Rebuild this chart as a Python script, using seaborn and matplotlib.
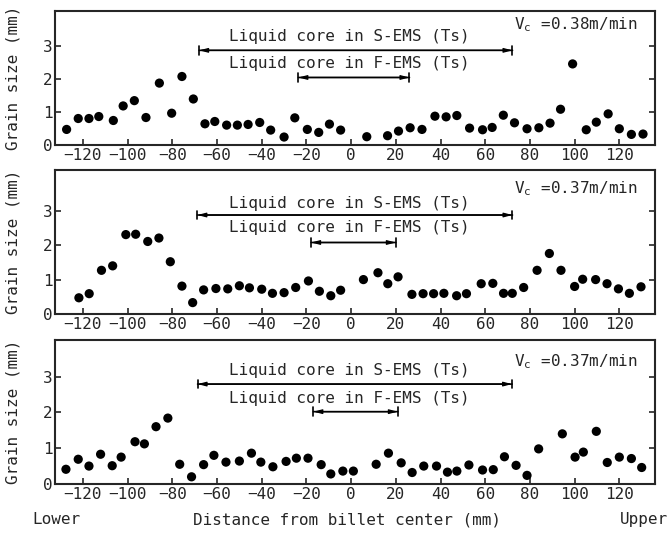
import matplotlib
matplotlib.use("Agg")
import matplotlib.pyplot as plt
import seaborn as sns
import pandas as pd

# distance from billet center (mm) and grain size (mm), one pair per panel
p1_x = [-127.3, -122.1, -117.3, -112.9, -106.4, -102.0, -97.0, -91.8, -85.8, -80.3,
        -75.7, -70.6, -65.4, -61.0, -55.7, -50.9, -46.1, -40.9, -36.0, -30.0,
        -25.2, -19.6, -14.5, -9.7, -4.7, 7.0, 16.3, 21.2, 26.4, 31.7,
        37.5, 42.5, 47.3, 53.0, 58.8, 63.1, 68.1, 73.1, 78.7, 84.0,
        89.0, 93.7, 99.1, 105.2, 109.7, 115.0, 120.0, 125.4, 130.6]
p1_y = [0.47, 0.80, 0.80, 0.86, 0.74, 1.18, 1.34, 0.83, 1.87, 0.96,
        2.07, 1.39, 0.64, 0.71, 0.60, 0.60, 0.62, 0.68, 0.45, 0.24,
        0.82, 0.47, 0.38, 0.63, 0.45, 0.25, 0.28, 0.42, 0.52, 0.47,
        0.87, 0.85, 0.89, 0.51, 0.46, 0.53, 0.90, 0.67, 0.49, 0.52,
        0.66, 1.08, 2.45, 0.46, 0.69, 0.94, 0.49, 0.32, 0.33]

p2_x = [-121.8, -117.2, -111.7, -106.7, -100.8, -96.4, -91.0, -86.0, -80.9, -75.7,
        -70.9, -66.0, -60.5, -55.2, -50.0, -45.5, -40.0, -35.2, -30.0, -24.8,
        -19.1, -14.2, -9.1, -4.7, 5.5, 12.0, 16.4, 21.0, 27.2, 32.2,
        36.9, 41.5, 47.2, 51.6, 58.2, 63.4, 68.2, 72.1, 77.2, 83.2,
        88.7, 93.9, 100.0, 103.6, 109.4, 114.5, 119.6, 124.5, 129.7]
p2_y = [0.47, 0.59, 1.27, 1.40, 2.31, 2.32, 2.11, 2.21, 1.52, 0.81,
        0.33, 0.70, 0.74, 0.73, 0.82, 0.76, 0.72, 0.60, 0.62, 0.77,
        0.96, 0.66, 0.53, 0.69, 1.00, 1.20, 0.88, 1.08, 0.57, 0.59,
        0.59, 0.60, 0.53, 0.59, 0.88, 0.89, 0.60, 0.60, 0.77, 1.27,
        1.76, 1.27, 0.80, 1.01, 1.00, 0.88, 0.73, 0.60, 0.79]

p3_x = [-127.6, -122.1, -117.3, -112.1, -106.9, -102.9, -96.7, -92.5, -87.3, -82.0,
        -76.7, -71.4, -66.0, -61.4, -56.0, -50.0, -44.6, -40.4, -35.0, -29.1,
        -24.5, -19.3, -13.4, -9.1, -3.7, 1.0, 11.2, 16.7, 22.4, 27.3,
        32.5, 38.2, 43.1, 47.3, 52.7, 58.8, 63.6, 68.6, 73.8, 78.7,
        83.9, 94.5, 100.2, 103.9, 109.7, 114.6, 120.0, 125.4, 130.0]
p3_y = [0.41, 0.69, 0.50, 0.83, 0.51, 0.75, 1.18, 1.12, 1.60, 1.84,
        0.55, 0.20, 0.54, 0.80, 0.61, 0.64, 0.86, 0.61, 0.48, 0.63,
        0.72, 0.72, 0.54, 0.28, 0.36, 0.36, 0.55, 0.86, 0.59, 0.32,
        0.50, 0.50, 0.33, 0.36, 0.53, 0.39, 0.40, 0.76, 0.52, 0.24,
        0.98, 1.40, 0.75, 0.89, 1.47, 0.60, 0.75, 0.71, 0.46]

speeds = ["0.38", "0.37", "0.37"]
# liquid core ranges (mm)
s_ems = [(-68.0, 72.2), (-68.8, 72.2), (-68.7, 72.0)]
f_ems = [(-23.6, 26.1), (-17.9, 20.0), (-16.9, 20.9)]

df = pd.concat([
    pd.DataFrame({"dist": p1_x, "size": p1_y, "panel": 0}),
    pd.DataFrame({"dist": p2_x, "size": p2_y, "panel": 1}),
    pd.DataFrame({"dist": p3_x, "size": p3_y, "panel": 2}),
])

sns.set_style("ticks")
plt.rcParams["font.family"] = ["DejaVu Sans Mono"]
fs = 11.5

fig = plt.figure(figsize=(6.69, 5.33), dpi=100)
rects = [[0.0822, 0.728, 0.897, 0.2514],
         [0.0822, 0.411, 0.897, 0.270],
         [0.0822, 0.092, 0.897, 0.270]]
ytops = [4.05, 4.19, 4.02]
arrow_y = [(2.86, 2.04), (2.88, 2.08), (2.79, 2.02)]
text_y = [(3.28, 2.47), (3.22, 2.51), (3.16, 2.39)]
vc_y = [3.63, 3.65, 3.42]


def draw_range(ax, x0, x1, y):
    ax.annotate("", xy=(x0, y), xytext=(x1, y),
                arrowprops=dict(arrowstyle="|-|, widthA=0.3, widthB=0.3",
                                lw=1.2, color="black", shrinkA=0, shrinkB=0))
    ax.annotate("", xy=(x0, y), xytext=(x1, y),
                arrowprops=dict(arrowstyle="<|-|>, head_length=0.5, head_width=0.13",
                                lw=0.9, color="black", shrinkA=0, shrinkB=0))


for i, rect in enumerate(rects):
    ax = fig.add_axes(rect)
    sns.scatterplot(data=df[df["panel"] == i], x="dist", y="size", ax=ax,
                    color="black", s=44, edgecolor="none", legend=False)
    ax.set_xlim(-132.5, 136)
    ax.set_ylim(0, ytops[i])
    ax.set_xticks(range(-120, 121, 20))
    ax.set_yticks([0, 1, 2, 3])
    ax.tick_params(direction="in", length=4, width=1.2, labelsize=fs,
                   right=True, top=False, pad=2)
    for sp in ax.spines.values():
        sp.set_linewidth(1.5)
        sp.set_visible(True)
    ax.set_xlabel("")
    ax.set_ylabel("Grain size (mm)", fontsize=fs)
    ax.yaxis.set_label_coords(-0.057, 0.5)

    draw_range(ax, s_ems[i][0], s_ems[i][1], arrow_y[i][0])
    draw_range(ax, f_ems[i][0], f_ems[i][1], arrow_y[i][1])
    ax.text(-1, text_y[i][0], "Liquid core in S-EMS (Ts)", ha="center", va="center", fontsize=fs)
    ax.text(-1, text_y[i][1], "Liquid core in F-EMS (Ts)", ha="center", va="center", fontsize=fs)
    ax.text(73, vc_y[i], r"V$_\mathregular{c}$ =" + speeds[i] + "m/min",
            ha="left", va="center", fontsize=fs)

fig.text(0.048, 0.0244, "Lower", ha="left", va="center", fontsize=fs)
fig.text(0.519, 0.0244, "Distance from billet center (mm)", ha="center", va="center", fontsize=fs)
fig.text(0.927, 0.0244, "Upper", ha="left", va="center", fontsize=fs)

fig.savefig("out.png", dpi=100)
